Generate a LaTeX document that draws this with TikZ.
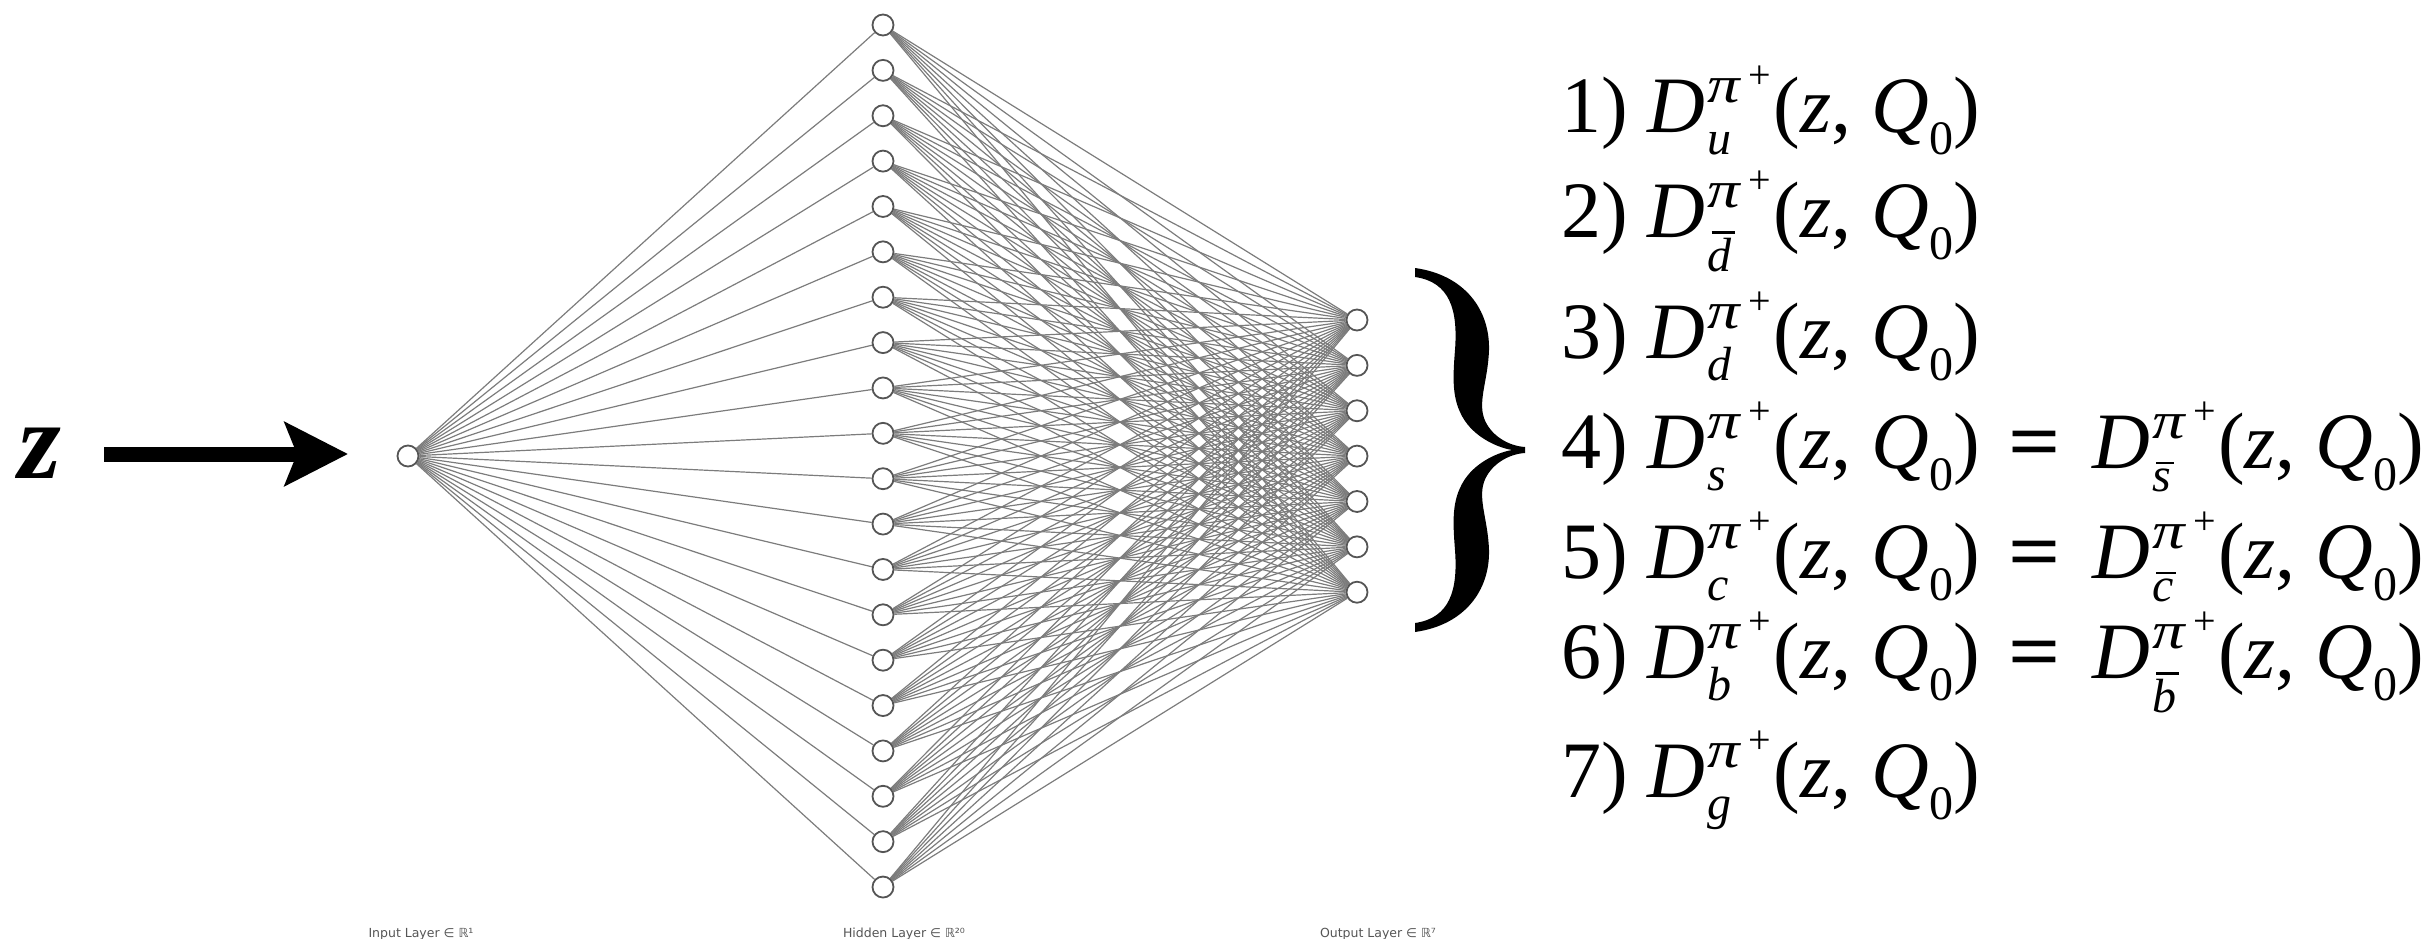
\documentclass[tikz,border=0pt]{standalone}
\usepackage{graphicx}
\usepackage{fontspec}
\setmainfont{Liberation Serif}
\newfontfamily\labelfont{DejaVu Sans}
\usetikzlibrary{arrows.meta}
\definecolor{edgegray}{HTML}{7C7C7C}
\definecolor{nodegray}{HTML}{555555}
\definecolor{labelgray}{HTML}{555555}
\newcommand\scrfont{\fontsize{48}{48}\selectfont}
\newcommand\sscrfont{\fontsize{40}{40}\selectfont}
% barred letter
\newcommand\barred[1]{\setbox4\hbox{#1}\rlap{\kern4pt\raisebox{\dimexpr\ht4+4pt\relax}{\rule{\dimexpr\wd4-1pt\relax}{2.4pt}}}\box4}
% D with stacked pi^+ and flavour subscript, followed by (z, Q_0)
\newcommand\Fr[2][22pt]{%
  \textit{D}\kern2pt\makebox[66pt][l]{%
    \rlap{\scrfont\raisebox{-#1}{#2}}%
    \raisebox{30pt}{\makebox[41pt][l]{\scalebox{1.25}[1]{\fontsize{52}{52}\selectfont\textit{π}}}\raisebox{14pt}{\sscrfont +}}}%
  (\textit{z}, \textit{Q}\raisebox{-22pt}{\scrfont 0})}
\newcommand\eqs{\kern29pt\scalebox{1.15}[1]{\textbf{=}}\kern31pt}
\pgfdeclarelayer{bg}
\pgfsetlayers{bg,main}
\tikzset{
  neuron/.style={circle, draw=nodegray, fill=white, line width=1.8pt, minimum size=21pt, inner sep=0pt},
  edge/.style={draw=edgegray, line width=1.2pt},
  layerlabel/.style={font=\labelfont\fontsize{12.5}{14}\selectfont, text=labelgray, anchor=base, inner sep=0pt},
  eqline/.style={anchor=base west, inner sep=0pt, font=\fontsize{80}{96}\selectfont},
  bigarrow/.style={line width=15pt, -{Stealth[length=63pt,width=63pt,inset=12pt]}}
}
\begin{document}
\begin{tikzpicture}[x=1pt,y=-1pt]
\useasboundingbox (0,0) rectangle (2429,939);
% input
\node[neuron] (in) at (408,456) {};
% hidden
\foreach \i in {1,...,20} {
  \node[neuron] (h\i) at (883,{25+(\i-1)*45.37}) {};
}
% output
\foreach \j in {1,...,7} {
  \node[neuron] (o\j) at (1357,{320+(\j-1)*45.37}) {};
}
\begin{pgfonlayer}{bg}
\foreach \i in {1,...,20} {
  \draw[edge] (in) -- (h\i);
  \foreach \j in {1,...,7} {
    \draw[edge] (h\i) -- (o\j);
  }
}
\end{pgfonlayer}
% layer labels
\node[layerlabel] (linput) at (421,937) {Input Layer ∈ ℝ¹};
\node[layerlabel] (lhidden) at (904,937) {Hidden Layer ∈ ℝ²⁰};
\node[layerlabel] (loutput) at (1378,937) {Output Layer ∈ ℝ⁷};
% z and arrow
\node[anchor=base, inner sep=0pt, font=\fontsize{110}{110}\selectfont\bfseries\itshape] (zin) at (40,478) {z};
\coordinate (arrowstart) at (104,454);
\coordinate (arrowend) at (348,454);
\draw[bigarrow] (arrowstart) -- (arrowend);
% brace
\fill[black] (1415,268) .. controls (1465,275) and (1490,310) .. (1489,350)
  .. controls (1488,380) and (1478,400) .. (1484,418)
  .. controls (1490,435) and (1508,446) .. (1525,447)
  -- (1525,453)
  .. controls (1508,454) and (1490,465) .. (1484,482)
  .. controls (1478,500) and (1488,520) .. (1489,550)
  .. controls (1490,590) and (1465,625) .. (1415,632)
  -- (1415,623)
  .. controls (1450,618) and (1458,590) .. (1455,550)
  .. controls (1453,525) and (1452,505) .. (1460,488)
  .. controls (1470,465) and (1495,453) .. (1512,450)
  .. controls (1495,447) and (1470,435) .. (1460,412)
  .. controls (1452,395) and (1453,375) .. (1455,350)
  .. controls (1458,310) and (1450,282) .. (1415,277)
  -- cycle;
% equations
\node[eqline] (l1) at (1561,133) {1) \Fr{\textit{u}}};
\node[eqline] (l2) at (1561,237) {2) \Fr[34pt]{\barred{\textit{d}}}};
\node[eqline] (l3) at (1561,358) {3) \Fr{\textit{d}}};
\node[eqline] (l4) at (1561,468) {4) \Fr{\textit{s}}\eqs\Fr[23pt]{\barred{\textit{s}}}};
\node[eqline] (l5) at (1561,578) {5) \Fr{\textit{c}}\eqs\Fr[23pt]{\barred{\textit{c}}}};
\node[eqline] (l6) at (1561,678) {6) \Fr{\textit{b}}\eqs\Fr[34pt]{\barred{\textit{b}}}};
\node[eqline] (l7) at (1561,797) {7) \Fr{\textit{g}}};
\end{tikzpicture}
\end{document}
